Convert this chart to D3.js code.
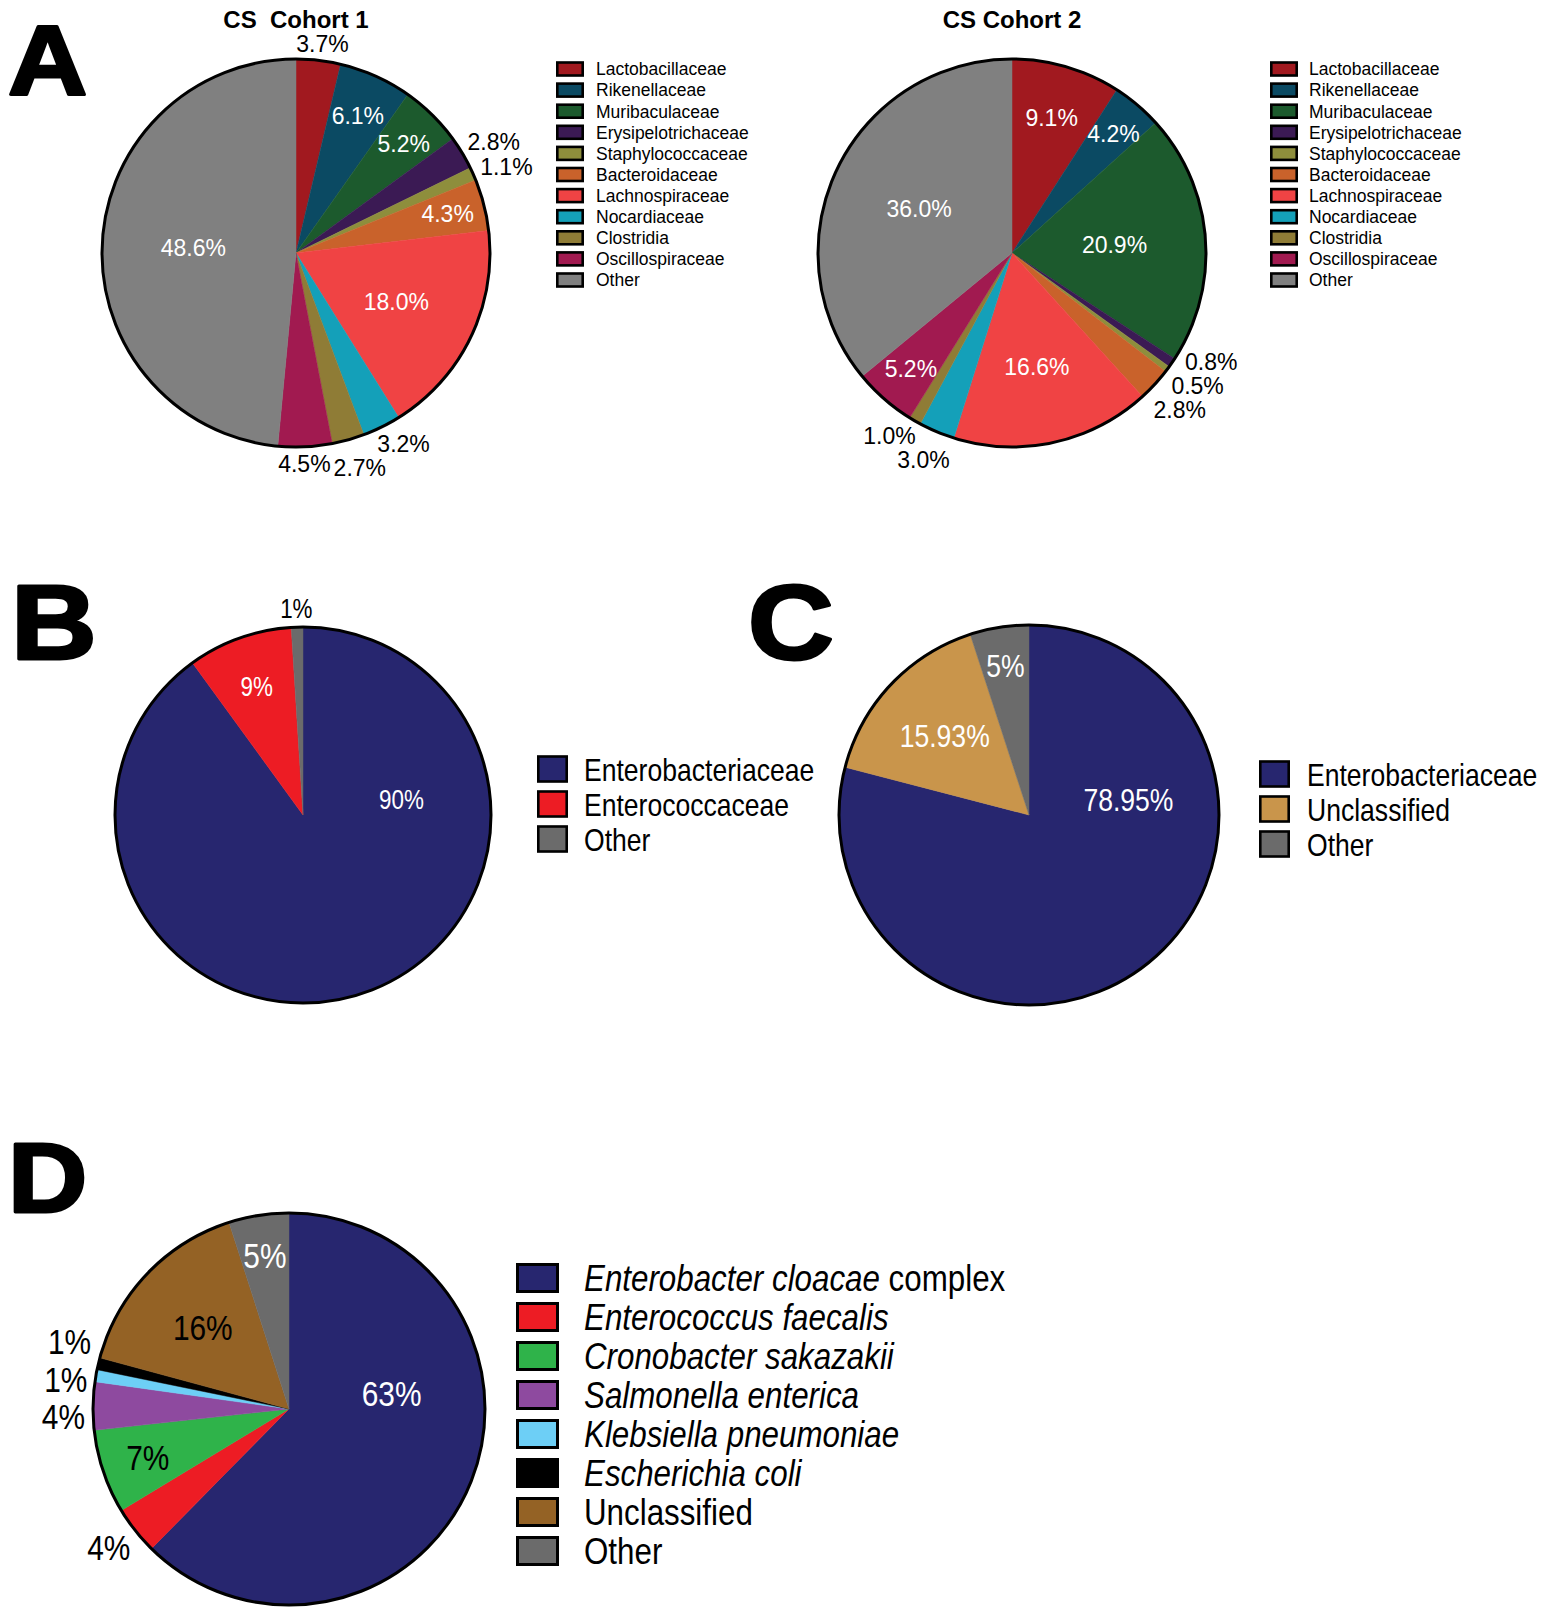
<!DOCTYPE html>
<html>
<head>
<meta charset="utf-8">
<script src="https://cdn.jsdelivr.net/npm/d3@7/dist/d3.min.js"></script>
<style>
  body { margin: 0; background: #fff; }
</style>
</head>
<body>
<div id="chart"></div>
<script>
// ---- panel A: family level, two cohorts
const familyNames = ["Lactobacillaceae", "Rikenellaceae", "Muribaculaceae", "Erysipelotrichaceae",
  "Staphylococcaceae", "Bacteroidaceae", "Lachnospiraceae", "Nocardiaceae", "Clostridia",
  "Oscillospiraceae", "Other"];
const cohort1Pct = [3.7, 6.1, 5.2, 2.8, 1.1, 4.3, 18.0, 3.2, 2.7, 4.5, 48.6];
const cohort2Pct = [9.1, 4.2, 20.9, 0.8, 0.5, 2.8, 16.6, 3.0, 1.0, 5.2, 36.0];
const familyColors = ["#a1191f", "#0b4a63", "#1c5a2d", "#3b1a54", "#8e8e3c", "#c9622b",
  "#f04344", "#14a0b9", "#8f7c36", "#a11a50", "#808080"];
// slices whose label sits outside the pie
const cohort1Outside = ["Lactobacillaceae", "Erysipelotrichaceae", "Staphylococcaceae",
  "Nocardiaceae", "Clostridia", "Oscillospiraceae"];
const cohort2Outside = ["Erysipelotrichaceae", "Staphylococcaceae", "Bacteroidaceae",
  "Nocardiaceae", "Clostridia"];

// ---- panel B
const bNames = ["Enterobacteriaceae", "Enterococcaceae", "Other"];
const bPct = [90, 9, 1];
const bColors = ["#27266f", "#ed1c24", "#6b6b6b"];

// ---- panel C
const cNames = ["Enterobacteriaceae", "Unclassified", "Other"];
const cPct = [78.95, 15.93, 5];
const cColors = ["#27266f", "#c9954b", "#6b6b6b"];

// ---- panel D: species
const dNames = ["Enterobacter cloacae complex", "Enterococcus faecalis", "Cronobacter sakazakii",
  "Salmonella enterica", "Klebsiella pneumoniae", "Escherichia coli", "Unclassified", "Other"];
const dItalic = ["Enterobacter cloacae", "Enterococcus faecalis", "Cronobacter sakazakii",
  "Salmonella enterica", "Klebsiella pneumoniae", "Escherichia coli", "", ""];
const dPct = [63, 4, 7, 4, 1, 1, 16, 5];
const dColors = ["#27266f", "#ed1c24", "#2fb34a", "#8e4a9f", "#6dcff6", "#000000", "#946225", "#6b6b6b"];
const dInk = ["#fff", "#000", "#000", "#000", "#000", "#000", "#000", "#fff"];

const W = 1548, H = 1620;
const ARIAL = "'Liberation Sans', Arial, Helvetica, sans-serif";

const svg = d3.select("#chart").append("svg")
    .attr("width", W).attr("height", H)
    .attr("viewBox", [0, 0, W, H]);

function pieChart(o) {
  const sx = o.squeeze || 1;
  const arcs = d3.pie().sort(null).value(d => d)(o.values);
  const arc = d3.arc().innerRadius(0).outerRadius(o.r);
  const g = svg.append("g").attr("transform", `translate(${o.cx},${o.cy})`);

  g.selectAll("path")
    .data(arcs)
    .join("path")
      .attr("d", arc)
      .attr("fill", (d, i) => o.colors[i])
      .attr("stroke", (d, i) => o.colors[i])
      .attr("stroke-width", 0.5);

  g.append("circle")
      .attr("r", o.r)
      .attr("fill", "none")
      .attr("stroke", "#000")
      .attr("stroke-width", o.stroke);

  const isOut = o.outside || ((v, i) => v <= 4);
  const outer = [];
  arcs.forEach((d, i) => {
    const v = o.values[i];
    const span = d.endAngle - d.startAngle;
    const txt = g.append("text")
        .attr("font-family", ARIAL)
        .attr("font-size", o.fontSize)
        .attr("text-anchor", "middle")
        .attr("dy", "0.36em")
        .text(o.fmt(v));
    if (!isOut(v, i)) {
      // inside the slice; very big slices keep their label near the start of the turn
      const a = span > Math.PI ? d.startAngle + Math.PI * 0.45 : (d.startAngle + d.endAngle) / 2;
      const k = Math.max(0.53, 0.88 - 0.017 * v);
      txt.attr("transform", `translate(${k * o.r * Math.sin(a)},${-k * o.r * Math.cos(a)}) scale(${sx},1)`)
         .attr("fill", o.ink ? o.ink[i] : "#fff");
    } else {
      const a = (d.startAngle + d.endAngle) / 2;
      const p = o.r + 6;
      const w = txt.node().getComputedTextLength() * sx;
      const h = o.fontSize * 1.02;
      outer.push({
        node: txt, w: w + 2, h,
        x: p * Math.sin(a) + (w / 2 + 2) * Math.sin(a),
        y: -p * Math.cos(a) - (o.fontSize * 0.4 + 2) * Math.cos(a)
      });
      txt.attr("fill", "#000");
    }
  });

  // push overlapping outside labels apart, then keep them off the disc
  const clear = o.r + 5;
  for (let it = 0; it < 120; it++) {
    let moved = false;
    for (let i = 0; i < outer.length; i++) {
      for (let j = i + 1; j < outer.length; j++) {
        const a = outer[i], b = outer[j];
        const dx = b.x - a.x, dy = b.y - a.y;
        const ox = (a.w + b.w) / 2 - Math.abs(dx);
        const oy = (a.h + b.h) / 2 - Math.abs(dy);
        if (ox > 0 && oy > 0) {
          moved = true;
          if (ox < oy) {
            const s = (ox / 2 + 0.5) * (dx >= 0 ? 1 : -1);
            a.x -= s; b.x += s;
          } else {
            const s = (oy / 2 + 0.5) * (dy >= 0 ? 1 : -1);
            a.y -= s; b.y += s;
          }
        }
      }
    }
    outer.forEach(l => {
      const hy = l.h * 0.36;
      const qx = Math.max(l.x - l.w / 2, Math.min(0, l.x + l.w / 2));
      const qy = Math.max(l.y - hy, Math.min(0, l.y + hy));
      const dist = Math.hypot(qx, qy);
      if (dist < clear) {
        const len = Math.hypot(l.x, l.y);
        l.x += (clear - dist) * l.x / len;
        l.y += (clear - dist) * l.y / len;
        moved = true;
      }
    });
    if (!moved) break;
  }
  outer.forEach(l => l.node.attr("transform", `translate(${l.x},${l.y}) scale(${sx},1)`));
}

function legend(o) {
  const sx = o.squeeze || 1;
  const y = d3.scaleLinear().domain([0, o.names.length - 1])
      .range([o.y, o.y + (o.names.length - 1) * o.step]);
  const row = svg.append("g").selectAll("g")
    .data(o.names)
    .join("g")
      .attr("transform", (d, i) => `translate(${o.x},${y(i)})`);
  row.append("rect")
      .attr("x", o.stroke / 2)
      .attr("y", -o.sh / 2)
      .attr("width", o.sw - o.stroke)
      .attr("height", o.sh)
      .attr("fill", (d, i) => o.colors[i])
      .attr("stroke", "#000")
      .attr("stroke-width", o.stroke);
  row.append("text")
      .attr("transform", `translate(${o.tx},0) scale(${sx},1)`)
      .attr("dy", "0.36em")
      .attr("font-family", ARIAL)
      .attr("font-size", o.fontSize)
      .attr("fill", "#000")
    .each(function(d, i) {
      const it = o.italic ? o.italic[i] : "";
      const sel = d3.select(this);
      if (it) sel.append("tspan").attr("font-style", "italic").text(it);
      if (d.slice(it.length)) sel.append("tspan").text(d.slice(it.length));
    });
}

function letter(ch, x, y, size) {
  svg.append("text")
      .attr("transform", `translate(${x},${y}) scale(1.12,1)`)
      .attr("font-family", ARIAL)
      .attr("font-weight", 700)
      .attr("font-size", size)
      .attr("stroke", "#000")
      .attr("stroke-width", 3)
      .attr("stroke-linejoin", "round")
      .text(ch);
}

function title(txt, x, y) {
  svg.append("text")
      .attr("x", x).attr("y", y)
      .attr("text-anchor", "middle")
      .attr("font-family", ARIAL)
      .attr("font-weight", 700)
      .attr("font-size", 24)
      .style("white-space", "pre")
      .text(txt);
}

const pct1 = v => v.toFixed(1) + "%";
const pctRaw = v => v + "%";

// ---- A
letter("A", 8, 94, 98);
title("CS  Cohort 1", 296, 28);
title("CS Cohort 2", 1012, 28);
pieChart({ cx: 296, cy: 253, r: 194, values: cohort1Pct, colors: familyColors,
  outside: (v, i) => cohort1Outside.includes(familyNames[i]),
  fmt: pct1, fontSize: 23, stroke: 3 });
pieChart({ cx: 1012, cy: 253, r: 194, values: cohort2Pct, colors: familyColors,
  outside: (v, i) => cohort2Outside.includes(familyNames[i]),
  fmt: pct1, fontSize: 23, stroke: 3 });
legend({ x: 556, y: 69, step: 21.1, sw: 28, sh: 13, stroke: 2.6, tx: 40, names: familyNames,
  colors: familyColors, fontSize: 17.5 });
legend({ x: 1270, y: 69, step: 21.1, sw: 28, sh: 13, stroke: 2.6, tx: 39, names: familyNames,
  colors: familyColors, fontSize: 17.5 });

// ---- B
letter("B", 11, 659, 106);
pieChart({ cx: 303, cy: 815, r: 188, values: bPct, colors: bColors,
  fmt: pctRaw, fontSize: 27, squeeze: 0.83, stroke: 3 });
legend({ x: 537, y: 769, step: 35, sw: 31, sh: 25, stroke: 2.6, tx: 47, names: bNames,
  colors: bColors, fontSize: 32, squeeze: 0.83 });

// ---- C
letter("C", 748, 659, 106);
pieChart({ cx: 1029, cy: 815, r: 190, values: cPct, colors: cColors,
  fmt: pctRaw, fontSize: 32, squeeze: 0.83, stroke: 3 });
legend({ x: 1259, y: 774, step: 35, sw: 31, sh: 25, stroke: 2.6, tx: 48, names: cNames,
  colors: cColors, fontSize: 32, squeeze: 0.83 });

// ---- D
letter("D", 8, 1212, 98);
pieChart({ cx: 289, cy: 1409, r: 196, values: dPct, colors: dColors, ink: dInk,
  fmt: pctRaw, fontSize: 36, squeeze: 0.83, stroke: 3 });
legend({ x: 516, y: 1278, step: 39, sw: 43, sh: 27, stroke: 3, tx: 68, names: dNames,
  italic: dItalic, colors: dColors, fontSize: 36, squeeze: 0.87 });
</script>
</body>
</html>
